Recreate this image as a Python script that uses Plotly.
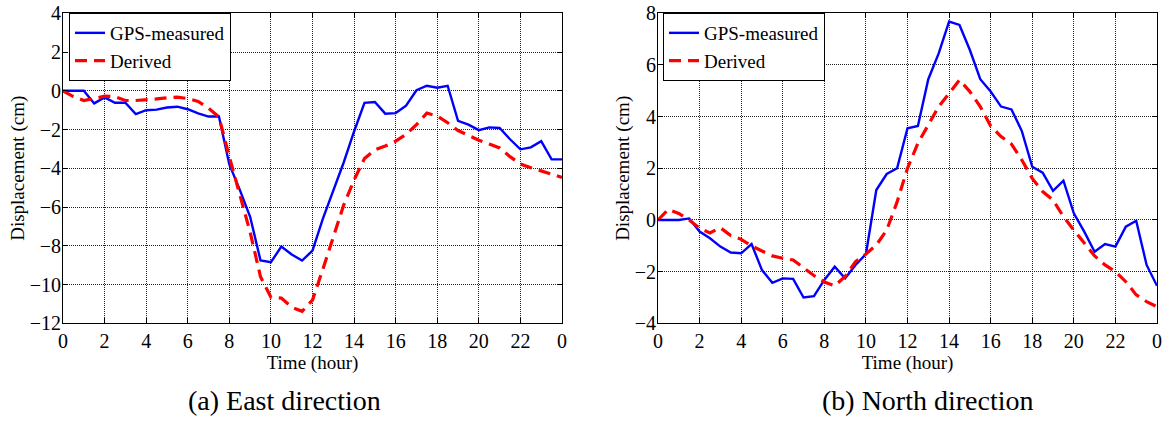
import plotly.graph_objects as go

# Time of day (hours), sampled every half hour
hours = [0, 0.5, 1, 1.5, 2, 2.5, 3, 3.5, 4, 4.5, 5, 5.5, 6, 6.5, 7, 7.5, 8, 8.5,
         9, 9.5, 10, 10.5, 11, 11.5, 12, 12.5, 13, 13.5, 14, 14.5, 15, 15.5, 16,
         16.5, 17, 17.5, 18, 18.5, 19, 19.5, 20, 20.5, 21, 21.5, 22, 22.5, 23,
         23.5, 24]

# East component (cm)
east_gps = [0, 0, 0, -0.65, -0.34, -0.62, -0.62, -1.2, -1.0, -0.97, -0.86, -0.82,
            -0.95, -1.17, -1.33, -1.33, -3.8, -5.1, -6.5, -8.76, -8.85, -8.04,
            -8.45, -8.76, -8.25, -6.6, -5.15, -3.7, -2.1, -0.62, -0.58, -1.18,
            -1.15, -0.77, 0.03, 0.26, 0.16, 0.26, -1.55, -1.75, -2.03, -1.89,
            -1.92, -2.5, -3.02, -2.92, -2.6, -3.54, -3.54]
east_derived = [0, -0.3, -0.5, -0.38, -0.28, -0.3, -0.5, -0.5, -0.48, -0.42, -0.36,
                -0.33, -0.4, -0.55, -0.9, -1.35, -3.4, -5.3, -7.3, -9.6, -10.65,
                -10.7, -11.17, -11.38, -10.8, -9.2, -7.6, -5.9, -4.6, -3.5, -3.05,
                -2.85, -2.6, -2.25, -1.75, -1.15, -1.3, -1.65, -2.05, -2.3, -2.55,
                -2.75, -2.95, -3.4, -3.78, -3.97, -4.12, -4.3, -4.47]

# North component (cm)
north_gps = [0, 0, 0, 0.06, -0.45, -0.71, -1.03, -1.26, -1.29, -0.93, -1.94, -2.43,
             -2.26, -2.28, -3.0, -2.95, -2.32, -1.81, -2.26, -1.74, -1.32, 1.16,
             1.78, 2.0, 3.55, 3.64, 5.45, 6.45, 7.68, 7.55, 6.58, 5.45, 4.97, 4.39,
             4.28, 3.44, 2.06, 1.83, 1.13, 1.52, 0.26, -0.45, -1.23, -0.93, -1.03,
             -0.26, -0.03, -1.74, -2.55]
north_derived = [0, 0.41, 0.25, 0.0, -0.32, -0.5, -0.3, -0.6, -0.75, -1.0, -1.2,
                 -1.39, -1.48, -1.55, -1.85, -2.15, -2.4, -2.55, -2.19, -1.61, -1.32,
                 -0.97, -0.39, 0.7, 2.0, 2.97, 3.68, 4.39, 4.9, 5.42, 4.97, 4.39,
                 3.64, 3.23, 2.94, 2.32, 1.61, 1.1, 0.77, 0.13, -0.39, -0.9, -1.39,
                 -1.74, -2.0, -2.39, -2.9, -3.16, -3.36]

x_tickvals = [0, 2, 4, 6, 8, 10, 12, 14, 16, 18, 20, 22, 24]
x_ticktext = ["0", "2", "4", "6", "8", "10", "12", "14", "16", "18", "20", "22", "0"]

series_names = ["GPS-measured", "Derived"]
captions = ["(a) East direction", "(b) North direction"]

FONT = "Liberation Serif, Times New Roman, serif"
W, H = 1169, 421
TICK_SIZE = 20
TITLE_SIZE = 19
LEGEND_SIZE = 19
CAPTION_SIZE = 28

fig = go.Figure()

panels = [
    (east_gps, east_derived, "x", "y", "legend"),
    (north_gps, north_derived, "x2", "y2", "legend2"),
]
for gps, der, xa, ya, lg in panels:
    fig.add_trace(go.Scatter(x=hours, y=gps, mode="lines", name=series_names[0],
                             line=dict(color="#0000FF", width=2.4),
                             xaxis=xa, yaxis=ya, legend=lg))
    fig.add_trace(go.Scatter(x=hours, y=der, mode="lines", name=series_names[1],
                             line=dict(color="#FF0000", width=3.2, dash="12px,7px"),
                             xaxis=xa, yaxis=ya, legend=lg))

common_axis = dict(
    showline=True, linecolor="black", linewidth=1, mirror="ticks",
    ticks="inside", ticklen=5, tickcolor="black",
    showgrid=True, gridcolor="#222222", gridwidth=1, griddash="1px,1px",
    zeroline=False, automargin=False,
    tickfont=dict(family=FONT, size=TICK_SIZE, color="black"),
)

x_domains = [[63 / W, 562 / W], [658 / W, 1157 / W]]
y_domain = [1 - 323.3 / H, 1 - 13.3 / H]


def x_title():
    return dict(text="Time (hour)", standoff=0,
                font=dict(family=FONT, size=TITLE_SIZE))


def y_title():
    return dict(text="Displacement (cm)", standoff=0,
                font=dict(family=FONT, size=TITLE_SIZE))


def legend_box(x_px):
    return dict(x=x_px / W, y=1 - 13 / H, xanchor="left", yanchor="top",
                bgcolor="white", bordercolor="black", borderwidth=1,
                font=dict(family=FONT, size=LEGEND_SIZE), tracegroupgap=0)


fig.update_layout(
    width=W, height=H,
    margin=dict(l=0, r=0, t=0, b=0),
    paper_bgcolor="white", plot_bgcolor="white",
    font=dict(family=FONT, size=TICK_SIZE, color="black"),
    xaxis=dict(common_axis, domain=x_domains[0], range=[0, 24],
               tickvals=x_tickvals, ticktext=x_ticktext, title=x_title()),
    yaxis=dict(common_axis, domain=y_domain, range=[-12, 4], dtick=2,
               ticklabelstandoff=-3, title=y_title()),
    xaxis2=dict(common_axis, domain=x_domains[1], range=[0, 24], anchor="y2",
                tickvals=x_tickvals, ticktext=x_ticktext, title=x_title()),
    yaxis2=dict(common_axis, domain=y_domain, range=[-4, 8], dtick=2, anchor="x2",
                ticklabelstandoff=-3, title=y_title()),
    legend=legend_box(69),
    legend2=legend_box(663),
    annotations=[
        dict(text=captions[0], x=284 / W, y=1 - 400 / H, xref="paper", yref="paper",
             xanchor="center", yanchor="middle", showarrow=False,
             font=dict(family=FONT, size=CAPTION_SIZE)),
        dict(text=captions[1], x=928 / W, y=1 - 400 / H, xref="paper", yref="paper",
             xanchor="center", yanchor="middle", showarrow=False,
             font=dict(family=FONT, size=CAPTION_SIZE)),
    ],
)

fig.write_html("out.html")
